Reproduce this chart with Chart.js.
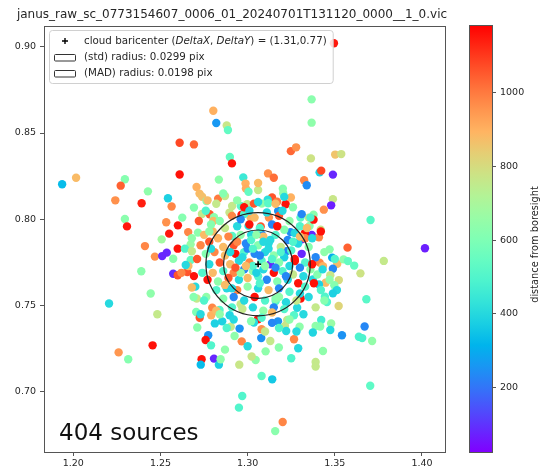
<!DOCTYPE html>
<html>
<head>
<meta charset="utf-8">
<script src="https://cdn.jsdelivr.net/npm/chart.js@4.4.1/dist/chart.umd.min.js"></script>
<style>
  body { margin: 0; background: #fff; }
  #wrap { position: relative; width: 547px; height: 468px; }
  #main { position: absolute; left: 0; top: 0; }
  #cbar { position: absolute; left: 460px; top: 0; }
</style>
</head>
<body>
<div id="wrap">
  <canvas id="main" width="460" height="468"></canvas>
  <canvas id="cbar" width="87" height="468"></canvas>
</div>
<script>
const title = "janus_raw_sc_0773154607_0006_01_20240701T131120_0000__1_0.vic";
const cbLabel = "distance from boresight";

const xTicks = [1.20, 1.25, 1.30, 1.35, 1.40];
const yTicks = [0.70, 0.75, 0.80, 0.85, 0.90];
const cbTicks = [200, 400, 600, 800, 1000];
const xRange = [1.1832, 1.4132];
const yRange = [0.6652, 0.9120];
const cbRange = [25, 1184];

const baricenter = [1.306, 0.774];
const stdRadius = 0.0299;
const madRadius = 0.0198;

// sources away from the core
const haloX = [
  1.1936, 1.2016, 1.2296, 1.2272, 1.2428, 1.2241, 1.2392, 1.2543, 1.2564, 1.2296,
  1.2308, 1.2533, 1.2600, 1.2550, 1.2610, 1.2610, 1.2507, 1.2803, 1.2820, 1.2880,
  1.2887, 1.2692, 1.2898, 1.2910, 1.3248, 1.3278, 1.3363, 1.3367, 1.3367, 1.2975,
  1.3117, 1.3150, 1.2988, 1.2990, 1.3005, 1.2707, 1.2724, 1.2739, 1.2764, 1.2831,
  1.2870, 1.3202, 1.3248, 1.3324, 1.3339, 1.3204, 1.3140, 1.3169, 1.3115, 1.3218,
  1.3175, 1.2692, 1.2625, 1.2659, 1.2715, 1.2738, 1.2782, 1.2807, 1.2896, 1.2911,
  1.2965, 1.2961, 1.2997, 1.3036, 1.3081, 1.3303, 1.3351, 1.3355, 1.3368, 1.3328,
  1.3246, 1.3075, 1.3122, 1.3017, 1.3080, 1.2911, 1.3005, 1.3495, 1.3502, 1.3537,
  1.3413, 1.3422, 1.3489, 1.3489, 1.3479, 1.3437, 1.3705, 1.3378, 1.3378, 1.3419,
  1.3409, 1.4017, 1.3781, 1.3647, 1.3573, 1.3470, 1.3485, 1.3413, 1.3432, 1.3514,
  1.3550, 1.3575, 1.3611, 1.3489, 1.3474, 1.3523, 1.3447, 1.3409, 1.3374, 1.3497,
  1.3512, 1.3489, 1.3443, 1.3455, 1.3681, 1.3522, 1.3422, 1.3479, 1.3390, 1.3416,
  1.3474, 1.3374, 1.3671, 1.3541, 1.3638, 1.3657, 1.3714, 1.3432, 1.3390, 1.3390,
  1.3703, 1.2411, 1.2468, 1.2510, 1.2536, 1.2573, 1.2599, 1.2390, 1.2573, 1.2599,
  1.2444, 1.2205, 1.2482, 1.2455, 1.2260, 1.2315, 1.2673, 1.2673, 1.2654, 1.2692,
  1.2708, 1.2763, 1.2705, 1.2725, 1.2797, 1.2791, 1.2812, 1.2854, 1.2897, 1.2839,
  1.2960, 1.2711, 1.2774, 1.2759, 1.2903, 1.2954, 1.2925, 1.2966, 1.3059, 1.3036,
  1.3080, 1.3078, 1.3174, 1.3214, 1.3227, 1.3266, 1.3298, 1.3266, 1.3221, 1.3179,
  1.3290, 1.3103, 1.3046, 1.3023, 1.2736, 1.2807, 1.2731, 1.2835, 1.2845, 1.2952,
  1.3080, 1.3141, 1.2969, 1.2950, 1.3201, 1.3158, 1.3161, 1.3304, 1.3284, 1.2803,
  1.3118, 1.3284, 1.3310, 1.3224, 1.3271
];
const haloY = [
  0.8203, 0.8241, 0.8232, 0.8195, 0.8162, 0.8110, 0.8093, 0.8122, 0.8074, 0.8002,
  0.7959, 0.7983, 0.7965, 0.7917, 0.8260, 0.8444, 0.7884, 0.8629, 0.8558, 0.8544,
  0.8517, 0.8434, 0.8361, 0.8324, 0.8395, 0.8417, 0.8353, 0.8695, 0.8560, 0.8243,
  0.8266, 0.8241, 0.8207, 0.8178, 0.8160, 0.8187, 0.8149, 0.8131, 0.8106, 0.8120,
  0.8135, 0.8178, 0.8126, 0.8226, 0.8197, 0.8151, 0.8126, 0.8102, 0.8114, 0.8087,
  0.8048, 0.8068, 0.8010, 0.7926, 0.7923, 0.8031, 0.8029, 0.8012, 0.8039, 0.8077,
  0.8027, 0.8077, 0.8087, 0.8091, 0.8091, 0.8010, 0.8010, 0.7961, 0.7909, 0.7919,
  0.7926, 0.7958, 0.8010, 0.8010, 0.7913, 0.7903, 0.7962, 0.9020, 0.8375, 0.8378,
  0.8272, 0.8282, 0.8259, 0.8117, 0.8081, 0.8056, 0.7996, 0.8027, 0.7998, 0.7940,
  0.7896, 0.7832, 0.7759, 0.7687, 0.7836, 0.7826, 0.7778, 0.7749, 0.7729, 0.7743,
  0.7768, 0.7758, 0.7732, 0.7714, 0.7676, 0.7648, 0.7633, 0.7623, 0.7652, 0.7618,
  0.7590, 0.7571, 0.7552, 0.7521, 0.7537, 0.7498, 0.7417, 0.7397, 0.7382, 0.7379,
  0.7359, 0.7344, 0.7379, 0.7328, 0.7320, 0.7312, 0.7295, 0.7237, 0.7173, 0.7147,
  0.7036, 0.7845, 0.7784, 0.7787, 0.7807, 0.7772, 0.7830, 0.7699, 0.7685, 0.7676,
  0.7570, 0.7512, 0.7450, 0.7270, 0.7229, 0.7189, 0.7855, 0.7764, 0.7695, 0.7671,
  0.7541, 0.7550, 0.7463, 0.7430, 0.7488, 0.7444, 0.7397, 0.7409, 0.7444, 0.7475,
  0.7508, 0.7373, 0.7328, 0.7301, 0.7378, 0.7367, 0.7324, 0.7293, 0.7421, 0.7402,
  0.7363, 0.7312, 0.7409, 0.7382, 0.7417, 0.7444, 0.7378, 0.7305, 0.7353, 0.7257,
  0.7253, 0.7235, 0.7185, 0.7205, 0.7189, 0.7193, 0.7158, 0.7158, 0.7189, 0.7158,
  0.7092, 0.7073, 0.6976, 0.6909, 0.6826, 0.6773, 0.7527, 0.7541, 0.7488, 0.7990,
  0.8093, 0.7865, 0.7884, 0.7816, 0.7758
];
const haloDist = [
  330, 880, 620, 1040, 640, 960, 1140, 380, 980, 630,
  1150, 960, 1160, 1150, 1160, 1080, 680, 900, 260, 770,
  540, 1030, 540, 1160, 1030, 960, 780, 630, 640, 450,
  960, 1020, 900, 910, 540, 900, 880, 870, 620, 1000,
  760, 620, 900, 980, 240, 640, 1060, 1000, 420, 1160,
  250, 620, 620, 980, 630, 760, 1060, 630, 770, 760,
  1160, 520, 760, 1060, 640, 520, 760, 630, 80, 1160,
  240, 1060, 960, 900, 240, 520, 400, 1150, 860, 780,
  380, 1080, 80, 770, 70, 960, 520, 630, 1160, 770,
  980, 70, 760, 780, 1040, 630, 300, 980, 900, 880,
  640, 540, 540, 230, 770, 800, 880, 380, 400, 620,
  400, 380, 500, 500, 520, 820, 470, 660, 640, 620,
  400, 390, 230, 250, 490, 490, 650, 640, 760, 760,
  530, 980, 960, 80, 80, 630, 1160, 630, 90, 1060,
  640, 400, 760, 1160, 950, 620, 660, 540, 1060, 1160,
  760, 640, 600, 1060, 980, 900, 380, 380, 390, 510,
  760, 630, 250, 1160, 760, 250, 640, 980, 1160, 400,
  960, 250, 250, 770, 770, 510, 640, 980, 400, 630,
  400, 640, 640, 770, 1160, 80, 330, 380, 640, 770,
  540, 360, 500, 500, 980, 630, 520, 1160, 400, 880,
  520, 400, 80, 230, 1160
];

// dense core round the baricenter
const coreX = [
  1.284, 1.291, 1.298, 1.304, 1.311, 1.318, 1.324, 1.330,
  1.280, 1.287, 1.294, 1.301, 1.307, 1.314, 1.321, 1.327, 1.333,
  1.278, 1.283, 1.289, 1.296, 1.302, 1.309, 1.316, 1.323, 1.329, 1.335,
  1.286, 1.292, 1.299, 1.306, 1.312, 1.319, 1.325, 1.331,
  1.276, 1.281, 1.287, 1.293, 1.298, 1.304, 1.310, 1.315, 1.321, 1.327, 1.333,
  1.278, 1.284, 1.290, 1.295, 1.301, 1.308, 1.313, 1.318, 1.324, 1.330, 1.336,
  1.280, 1.286, 1.292, 1.298, 1.303, 1.309, 1.315, 1.320, 1.326, 1.332,
  1.277, 1.283, 1.289, 1.295, 1.300, 1.306, 1.311, 1.317, 1.323, 1.329,
  1.282, 1.288, 1.294, 1.300, 1.306, 1.312, 1.318, 1.324, 1.330,
  1.286, 1.292, 1.298, 1.304, 1.310, 1.316, 1.322, 1.328,
  1.291, 1.297, 1.303, 1.309, 1.315, 1.321,
  1.297, 1.300, 1.303, 1.307, 1.310, 1.312, 1.305, 1.314, 1.299, 1.309,
  1.302, 1.316, 1.296, 1.307, 1.313, 1.294, 1.319, 1.293,
  1.273, 1.275, 1.279, 1.271, 1.274,
  1.337, 1.339, 1.338, 1.335, 1.340, 1.334,
  1.268, 1.270, 1.266, 1.272, 1.276, 1.282, 1.294, 1.306, 1.316, 1.326,
  1.336, 1.342, 1.344, 1.343, 1.342, 1.339, 1.332, 1.324, 1.314, 1.302,
  1.292, 1.282, 1.275, 1.269, 1.264, 1.277, 1.321, 1.347, 1.288, 1.310,
  1.298, 1.331, 1.273, 1.344, 1.318, 1.262, 1.350, 1.286, 1.328, 1.306,
  1.290, 1.305, 1.322, 1.287, 1.326, 1.301, 1.317, 1.284, 1.333, 1.279,
  1.308, 1.320, 1.296, 1.314, 1.278, 1.337, 1.303, 1.318, 1.291, 1.330,
  1.268, 1.2645, 1.268, 1.279, 1.287, 1.300, 1.313, 1.325, 1.2835, 1.306
];
const coreY = [
  0.799, 0.802, 0.803, 0.801, 0.804, 0.802, 0.799, 0.796,
  0.793, 0.795, 0.796, 0.797, 0.795, 0.797, 0.794, 0.792, 0.789,
  0.787, 0.789, 0.790, 0.791, 0.791, 0.790, 0.791, 0.788, 0.786, 0.784,
  0.784, 0.785, 0.786, 0.785, 0.786, 0.784, 0.782, 0.780,
  0.780, 0.781, 0.779, 0.780, 0.781, 0.780, 0.781, 0.779, 0.778, 0.777, 0.775,
  0.774, 0.775, 0.774, 0.776, 0.775, 0.776, 0.774, 0.775, 0.773, 0.772, 0.771,
  0.769, 0.770, 0.769, 0.771, 0.770, 0.771, 0.769, 0.770, 0.768, 0.767,
  0.765, 0.764, 0.766, 0.765, 0.766, 0.767, 0.765, 0.764, 0.765, 0.763,
  0.759, 0.760, 0.759, 0.761, 0.760, 0.759, 0.760, 0.758, 0.757,
  0.754, 0.755, 0.753, 0.755, 0.753, 0.754, 0.752, 0.753,
  0.749, 0.748, 0.749, 0.747, 0.749, 0.748,
  0.778, 0.783, 0.773, 0.779, 0.773, 0.783, 0.769, 0.777, 0.773, 0.787,
  0.788, 0.772, 0.769, 0.763, 0.788, 0.787, 0.781, 0.772,
  0.785, 0.791, 0.797, 0.777, 0.769,
  0.789, 0.778, 0.763, 0.755, 0.768, 0.795,
  0.789, 0.761, 0.773, 0.799, 0.805, 0.809, 0.811, 0.810, 0.809, 0.807,
  0.801, 0.793, 0.781, 0.771, 0.759, 0.749, 0.745, 0.742, 0.740, 0.741,
  0.742, 0.747, 0.753, 0.755, 0.783, 0.811, 0.813, 0.765, 0.737, 0.735,
  0.807, 0.803, 0.745, 0.753, 0.737, 0.769, 0.777, 0.815, 0.735, 0.817,
  0.781, 0.791, 0.767, 0.762, 0.787, 0.805, 0.796, 0.745, 0.761, 0.783,
  0.743, 0.805, 0.800, 0.746, 0.793, 0.774, 0.783, 0.755, 0.760, 0.790,
  0.7815, 0.7735, 0.7605, 0.727, 0.7245, 0.7265, 0.7295, 0.7195, 0.823, 0.821
];
const coreDist = [
  620, 980, 500, 880, 400, 1060, 640, 500,
  880, 760, 400, 1160, 500, 230, 620, 400, 980,
  1060, 900, 980, 640, 400, 880, 500, 230, 400, 620,
  880, 1060, 230, 620, 400, 760, 500, 80,
  620, 980, 880, 1160, 500, 230, 400, 640, 380, 1160, 500,
  400, 1060, 880, 400, 980, 500, 80, 620, 400, 230, 640,
  880, 500, 980, 230, 620, 400, 1160, 500, 760, 400,
  1160, 640, 1060, 400, 880, 500, 230, 620, 400, 1160,
  500, 400, 980, 640, 400, 880, 230, 500, 400,
  620, 230, 400, 1160, 500, 620, 400, 760,
  500, 760, 400, 640, 230, 500,
  400, 230, 500, 230, 640, 400, 380, 500, 880, 400,
  500, 230, 640, 500, 400, 980, 500, 1060,
  980, 880, 620, 1060, 500,
  400, 230, 1160, 400, 620, 880,
  640, 400, 880, 1060, 500, 760, 640, 400, 880, 620,
  500, 1160, 640, 400, 500, 760, 400, 640, 230, 620,
  400, 880, 500, 620, 500, 880, 400, 640, 500, 760,
  1160, 230, 400, 620, 500, 980, 500, 620, 400, 760,
  400, 640, 230, 880, 500, 400, 1160, 640, 500, 400,
  500, 400, 230, 880, 640, 1160, 500, 640, 400, 880,
  760, 400, 880, 500, 640, 400, 760, 500, 640, 880
];

const FONT = "'DejaVu Sans', sans-serif";
const INK = '#262626';
const SPINE = '#555';

// matplotlib "rainbow" colormap
function rainbow(t) {
  t = Math.min(1, Math.max(0, t));
  const r = Math.min(1, Math.abs(2 * t - 0.5));
  const g = Math.sin(Math.PI * t);
  const b = Math.cos(Math.PI * t / 2);
  return `rgb(${Math.round(r * 255)},${Math.round(g * 255)},${Math.round(b * 255)})`;
}
function distColor(d) {
  return rainbow((d - cbRange[0]) / (cbRange[1] - cbRange[0]));
}

const allX = haloX.concat(coreX);
const allY = haloY.concat(coreY);
const allDist = haloDist.concat(coreDist);
const points = allX.map((x, i) => ({ x: x, y: allY[i] }));
const colors = allDist.map(distColor);

const frame = {
  id: 'frame',
  afterDraw(chart) {
    const a = chart.chartArea, ctx = chart.ctx;
    ctx.save();
    ctx.strokeStyle = SPINE;
    ctx.lineWidth = 1;
    ctx.strokeRect(a.left + 0.5, a.top + 0.5, a.right - a.left, a.bottom - a.top);
    ctx.restore();
  }
};

const circles = {
  id: 'circles',
  afterDatasetsDraw(chart) {
    const xs = chart.scales.x, ys = chart.scales.y, ctx = chart.ctx;
    const cx = xs.getPixelForValue(baricenter[0]);
    const cy = ys.getPixelForValue(baricenter[1]);
    ctx.save();
    ctx.strokeStyle = '#222';
    ctx.lineWidth = 1.2;
    [stdRadius, madRadius].forEach(r => {
      const rx = xs.getPixelForValue(baricenter[0] + r) - cx;
      const ry = cy - ys.getPixelForValue(baricenter[1] + r);
      ctx.beginPath();
      ctx.ellipse(cx, cy, rx, ry, 0, 0, Math.PI * 2);
      ctx.stroke();
    });
    ctx.restore();
  }
};

const legendBox = {
  id: 'legendBox',
  afterDraw(chart) {
    const a = chart.chartArea, ctx = chart.ctx;
    const left = a.left + 5, top = a.top + 4;
    const size = 10.3;
    const normal = `${size}px ${FONT}`, italic = `italic ${size}px ${FONT}`;
    const line1 = [
      ['cloud baricenter (', normal], ['DeltaX', italic], [', ', normal], ['DeltaY', italic],
      [`) = (${baricenter[0].toFixed(2)},${baricenter[1].toFixed(2)})`, normal]
    ];
    const line2 = `(std) radius: ${stdRadius.toFixed(4)} pix`;
    const line3 = `(MAD) radius: ${madRadius.toFixed(4)} pix`;
    const textX = left + 35;
    let w1 = 0;
    line1.forEach(([s, f]) => { ctx.font = f; w1 += ctx.measureText(s).width; });
    const width = textX - left + w1 + 6;
    const height = 53;

    ctx.save();
    ctx.beginPath();
    ctx.roundRect(left + 0.5, top + 0.5, width, height, 3);
    ctx.fillStyle = 'rgba(255,255,255,0.85)';
    ctx.fill();
    ctx.strokeStyle = '#d0d0d0';
    ctx.lineWidth = 1;
    ctx.stroke();

    ctx.fillStyle = INK;
    ctx.textBaseline = 'middle';
    const rows = [top + 11, top + 27.5, top + 43.5];
    // marker for baricenter
    ctx.strokeStyle = '#000';
    ctx.lineWidth = 1.4;
    ctx.beginPath();
    ctx.moveTo(left + 13, rows[0]); ctx.lineTo(left + 19, rows[0]);
    ctx.moveTo(left + 16, rows[0] - 3); ctx.lineTo(left + 16, rows[0] + 3);
    ctx.stroke();
    // circle patches
    ctx.strokeStyle = '#333';
    ctx.lineWidth = 1;
    [rows[1], rows[2]].forEach(y => {
      ctx.beginPath();
      ctx.roundRect(left + 5.5, y - 3, 21, 6.5, 1);
      ctx.stroke();
    });
    let x = textX;
    line1.forEach(([s, f]) => { ctx.font = f; ctx.fillText(s, x, rows[0]); x += ctx.measureText(s).width; });
    ctx.font = normal;
    ctx.fillText(line2, textX, rows[1]);
    ctx.fillText(line3, textX, rows[2]);
    ctx.restore();
  }
};

const texts = {
  id: 'texts',
  afterDraw(chart) {
    const a = chart.chartArea, ctx = chart.ctx;
    ctx.save();
    ctx.fillStyle = INK;
    ctx.font = `12px ${FONT}`;
    ctx.textAlign = 'center';
    ctx.textBaseline = 'alphabetic';
    ctx.fillText(title, 232, 18);
    ctx.fillStyle = '#111';
    ctx.font = `23px ${FONT}`;
    ctx.textAlign = 'left';
    ctx.fillText(`${allX.length} sources`, a.left + 15, a.bottom - 12);
    ctx.restore();
  }
};

const tickFont = { family: FONT, size: 9.5 };

new Chart(document.getElementById('main'), {
  type: 'scatter',
  data: {
    datasets: [
      { data: [{ x: baricenter[0], y: baricenter[1] }], pointStyle: 'cross', pointRadius: 3,
        borderColor: '#000', borderWidth: 1.6, order: 0 },
      { data: points, pointRadius: 4.2, pointBackgroundColor: colors, pointBorderWidth: 0,
        borderWidth: 0, order: 1 }
    ]
  },
  options: {
    responsive: false,
    animation: false,
    events: [],
    layout: { padding: { left: 0, right: 15, top: 26, bottom: 0 } },
    plugins: { legend: { display: false }, tooltip: { enabled: false }, title: { display: false } },
    scales: {
      x: {
        type: 'linear', min: xRange[0], max: xRange[1],
        afterBuildTicks: s => { s.ticks = xTicks.map(v => ({ value: v })); },
        afterFit: s => { s.height = 16; },
        ticks: { font: tickFont, color: INK, padding: 2, maxRotation: 0, callback: v => v.toFixed(2) },
        grid: { drawOnChartArea: false, tickLength: 4, color: SPINE },
        border: { color: SPINE }
      },
      y: {
        type: 'linear', min: yRange[0], max: yRange[1],
        afterBuildTicks: s => { s.ticks = yTicks.map(v => ({ value: v })); },
        afterFit: s => { s.width = 44; },
        ticks: { font: tickFont, color: INK, padding: 4, callback: v => v.toFixed(2) },
        grid: { drawOnChartArea: false, tickLength: 4, color: SPINE },
        border: { color: SPINE }
      }
    }
  },
  plugins: [circles, legendBox, frame, texts]
});

// colorbar
const cbFrame = {
  id: 'cbFrame',
  afterDraw(chart) {
    const a = chart.chartArea, ctx = chart.ctx;
    ctx.save();
    ctx.strokeStyle = SPINE;
    ctx.lineWidth = 1;
    ctx.strokeRect(a.left + 0.5, a.top + 0.5, a.right - a.left, a.bottom - a.top);
    ctx.translate(75, (a.top + a.bottom) / 2 + 6);
    ctx.rotate(-Math.PI / 2);
    ctx.fillStyle = INK;
    ctx.font = `9.8px ${FONT}`;
    ctx.textAlign = 'center';
    ctx.textBaseline = 'middle';
    ctx.fillText(cbLabel, 0, 0);
    ctx.restore();
  }
};

new Chart(document.getElementById('cbar'), {
  type: 'bar',
  data: {
    labels: [''],
    datasets: [{
      data: [[cbRange[0], cbRange[1]]],
      barPercentage: 1, categoryPercentage: 1, borderWidth: 0,
      backgroundColor: ctx => {
        const a = ctx.chart.chartArea;
        if (!a) return '#fff';
        const g = ctx.chart.ctx.createLinearGradient(0, a.bottom, 0, a.top);
        for (let i = 0; i <= 20; i++) g.addColorStop(i / 20, rainbow(i / 20));
        return g;
      }
    }]
  },
  options: {
    responsive: false,
    animation: false,
    events: [],
    layout: { padding: { left: 9, right: 0, top: 25, bottom: 16 } },
    plugins: { legend: { display: false }, tooltip: { enabled: false } },
    scales: {
      x: { display: false },
      y: {
        position: 'right', min: cbRange[0], max: cbRange[1],
        afterBuildTicks: s => { s.ticks = cbTicks.map(v => ({ value: v })); },
        afterFit: s => { s.width = 55; },
        ticks: { font: tickFont, color: INK, padding: 4, callback: v => String(v) },
        grid: { drawOnChartArea: false, tickLength: 4, color: SPINE },
        border: { color: SPINE }
      }
    }
  },
  plugins: [cbFrame]
});
</script>
</body>
</html>
